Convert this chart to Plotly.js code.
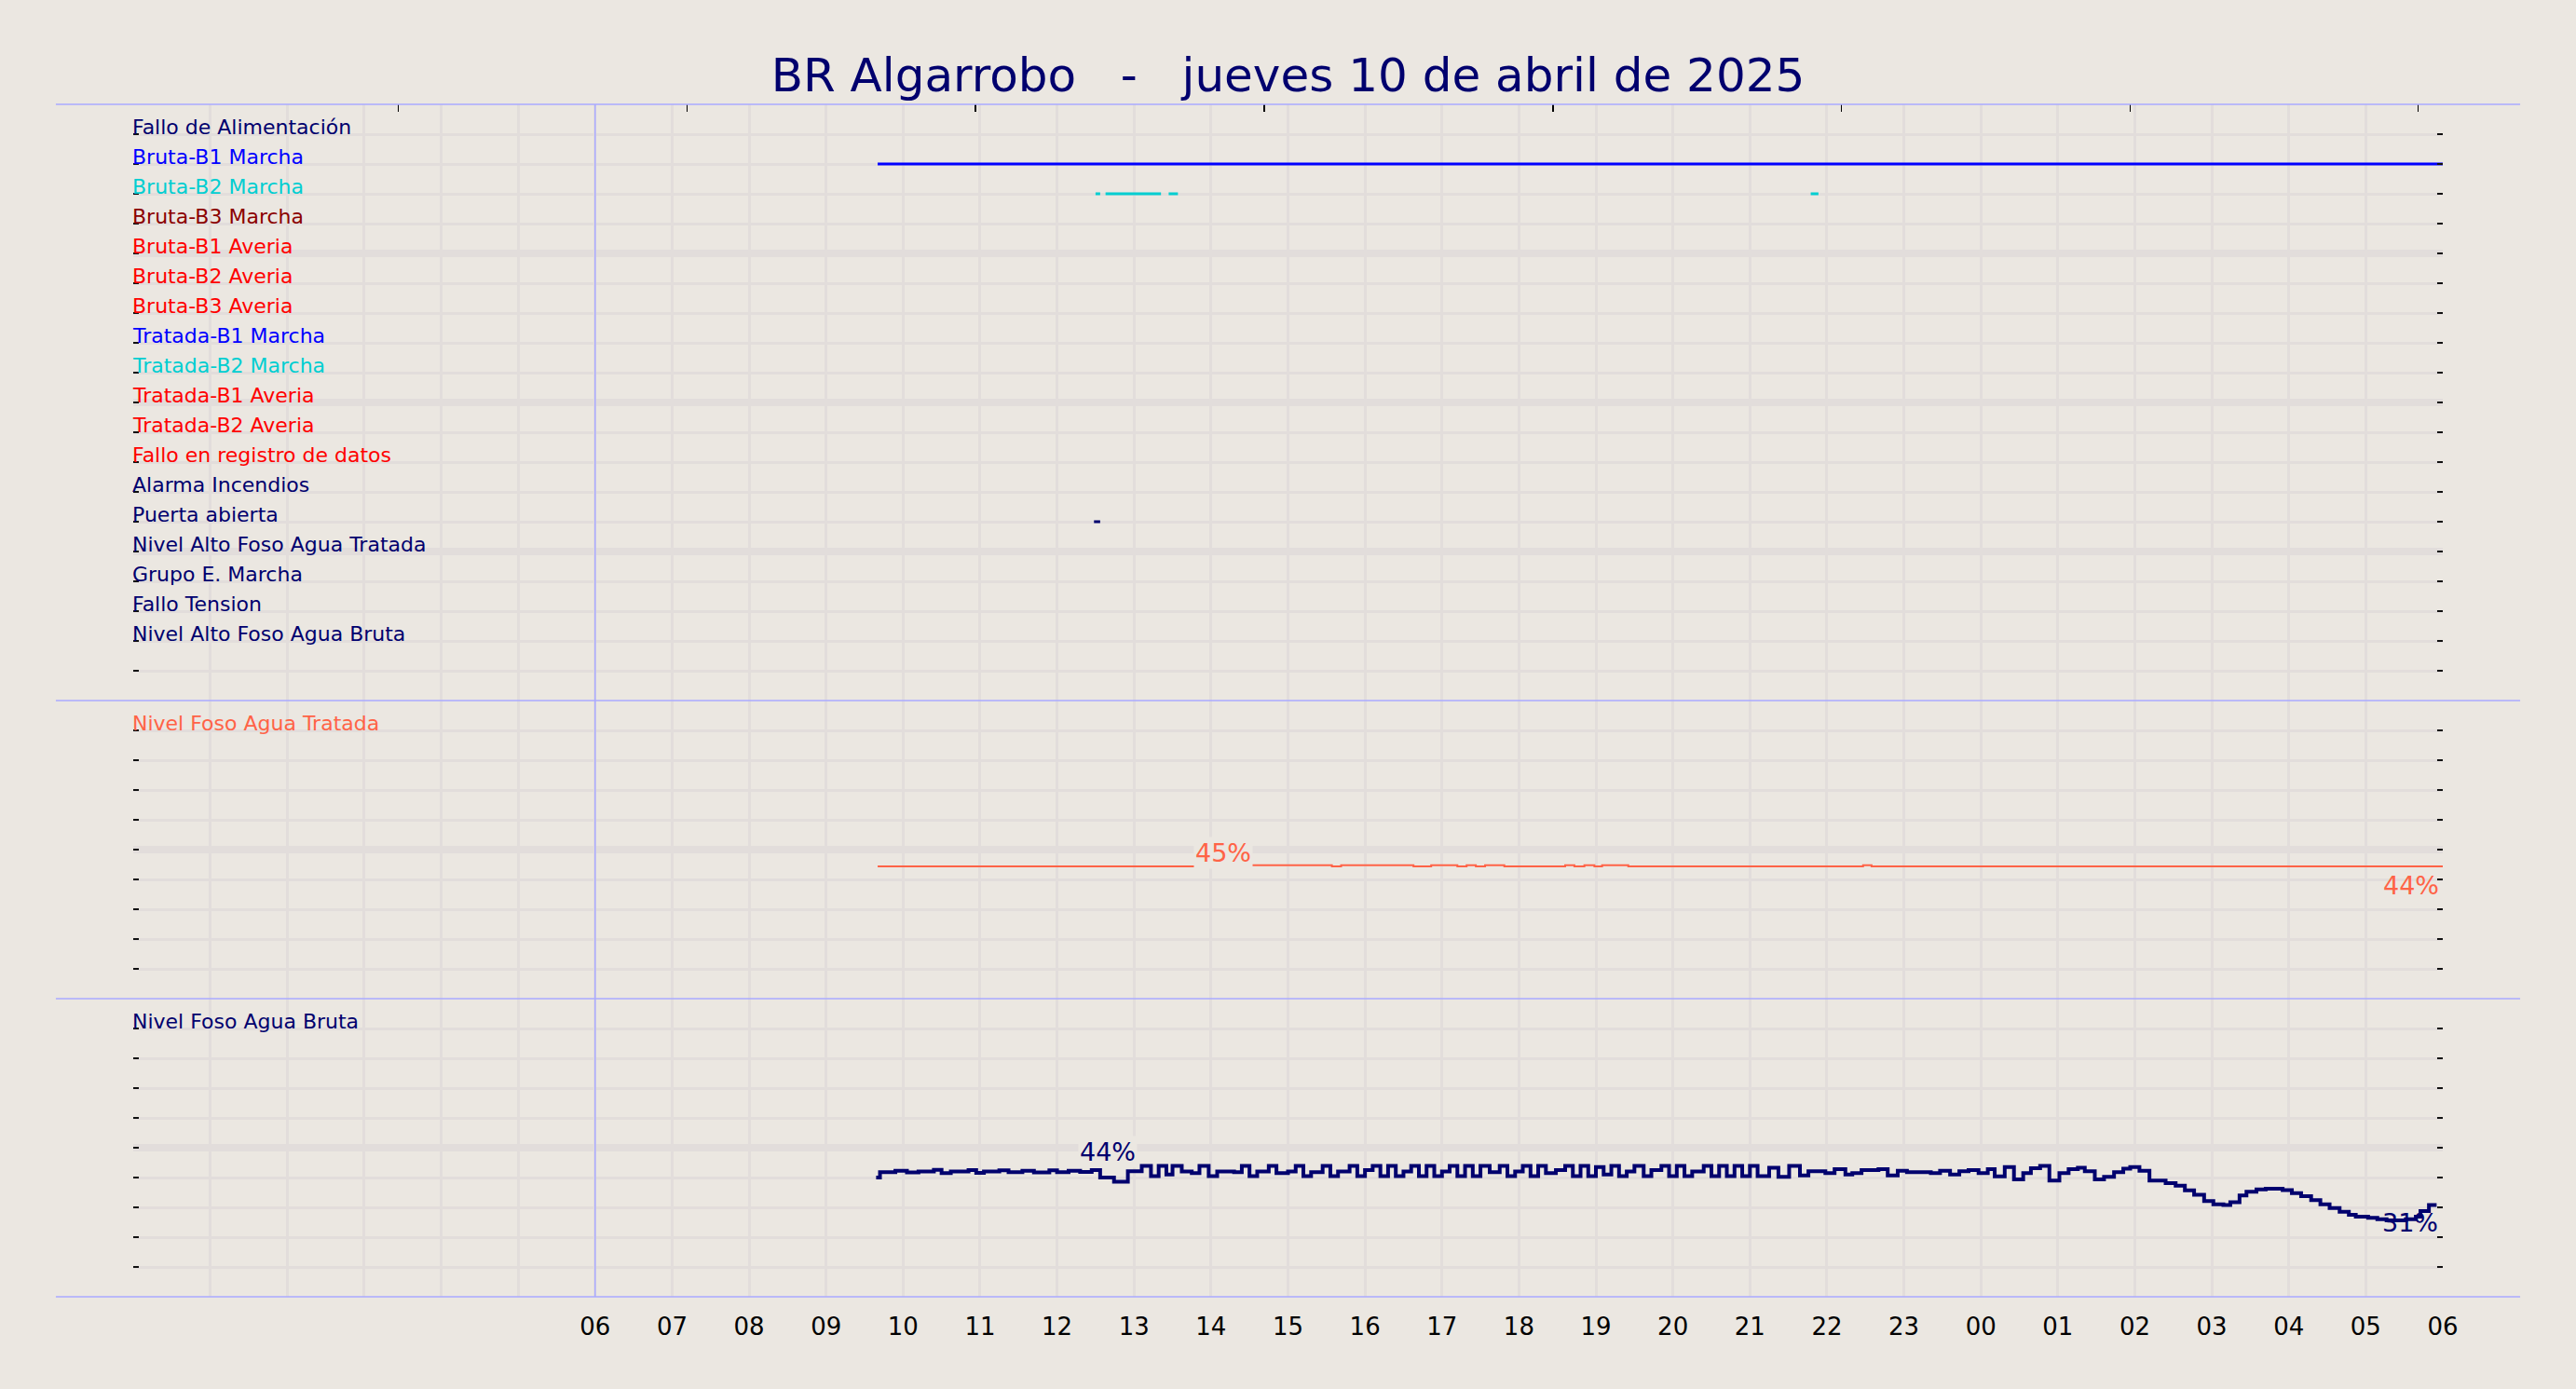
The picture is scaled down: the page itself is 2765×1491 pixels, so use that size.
<!DOCTYPE html>
<html><head><meta charset="utf-8">
<script src="https://cdn.plot.ly/plotly-3.0.1.min.js"></script>
<style>html,body{margin:0;padding:0;background:#ebe7e1;}</style>
</head><body><div id="chart" style="width:2765px;height:1491px;"></div>
<script>
// ---------------- DATA (hours since 2025-04-10 00:00) ----------------
const titleText = "BR Algarrobo\u00a0\u00a0\u00a0-\u00a0\u00a0\u00a0jueves 10 de abril de 2025";

const statusLabels = [
  "Fallo de Alimentación", "Bruta-B1 Marcha", "Bruta-B2 Marcha", "Bruta-B3 Marcha",
  "Bruta-B1 Averia", "Bruta-B2 Averia", "Bruta-B3 Averia", "Tratada-B1 Marcha",
  "Tratada-B2 Marcha", "Tratada-B1 Averia", "Tratada-B2 Averia", "Fallo en registro de datos",
  "Alarma Incendios", "Puerta abierta", "Nivel Alto Foso Agua Tratada", "Grupo E. Marcha",
  "Fallo Tension", "Nivel Alto Foso Agua Bruta"
];
const statusColors = [
  "#00006e", "#0000ff", "#00ced1", "#8b0000",
  "#ff0000", "#ff0000", "#ff0000", "#0000ff",
  "#00ced1", "#ff0000", "#ff0000", "#ff0000",
  "#00006e", "#00006e", "#00006e", "#00006e",
  "#00006e", "#00006e"
];
// on-intervals [start, end] for the signals that were active
const brutaB1MarchaOn = [[9.67, 30.0]];
const brutaB2MarchaOn = [[12.50, 12.56], [12.63, 13.35], [13.45, 13.57], [21.79, 21.89]];
const puertaAbiertaOn = [[12.48, 12.56]];

// Nivel Foso Agua Tratada (%)
const tratadaT = [9.67, 14.0, 15.57, 15.69, 16.63, 16.86, 17.20, 17.32, 17.44, 17.56, 17.81, 18.60, 18.72, 18.85, 18.98, 19.08, 19.42, 22.47, 22.58, 30.0];
const tratadaV = [44.4, 44.8, 44.4, 44.8, 44.4, 44.8, 44.4, 44.8, 44.4, 44.8, 44.4, 44.8, 44.4, 44.8, 44.4, 44.8, 44.4, 44.8, 44.4, 44.4];

// Nivel Foso Agua Bruta (%)
const brutaT = [9.65, 9.70, 9.90, 10.05, 10.20, 10.40, 10.50, 10.62, 10.85, 10.95, 11.05, 11.25, 11.37, 11.55, 11.70, 11.90, 12.00, 12.15, 12.30, 12.45, 12.56, 12.74, 12.92,
  13.10, 13.22, 13.32, 13.42, 13.50, 13.62, 13.75, 13.85, 13.97, 14.08, 14.30, 14.40, 14.50, 14.60, 14.75, 14.85, 15.00, 15.10, 15.20, 15.30, 15.45, 15.55, 15.65, 15.80, 15.90,
  16.00, 16.10, 16.20, 16.30, 16.40, 16.50, 16.60, 16.70, 16.80, 16.90, 17.00, 17.10, 17.20, 17.30, 17.40, 17.50, 17.62, 17.75, 17.85, 17.95, 18.05, 18.15, 18.25, 18.35, 18.48,
  18.60, 18.70, 18.80, 18.90, 19.00, 19.10, 19.20, 19.30, 19.40, 19.50, 19.62, 19.72, 19.85, 19.95, 20.05, 20.15, 20.25, 20.40, 20.50, 20.60, 20.70, 20.80, 20.90, 21.00, 21.10,
  21.25, 21.37, 21.51, 21.65, 21.76, 21.98, 22.10, 22.24, 22.33, 22.45, 22.67, 22.79, 22.92, 23.04, 23.35, 23.47, 23.60, 23.72, 23.84, 23.97, 24.09, 24.18, 24.31, 24.43, 24.55,
  24.65, 24.77, 24.89, 25.02, 25.14, 25.26, 25.35, 25.48, 25.60, 25.73, 25.85, 25.94, 26.06, 26.19, 26.40, 26.53, 26.65, 26.77, 26.90, 27.02, 27.15, 27.24, 27.36, 27.45, 27.58,
  27.70, 27.92, 28.04, 28.16, 28.29, 28.41, 28.53, 28.66, 28.78, 28.87, 29.03, 29.15, 29.27, 29.52, 29.65, 29.71, 29.82, 29.92];
const brutaV = [40.0, 41.8, 42.3, 41.7, 42.0, 42.6, 41.5, 42.0, 42.5, 41.6, 42.0, 42.4, 41.8, 42.3, 41.7, 42.4, 41.8, 42.3, 41.9, 42.5, 40.0, 38.6, 42.1,
  43.9, 40.5, 43.9, 41.0, 43.9, 42.0, 41.5, 43.9, 40.5, 42.0, 41.8, 43.9, 40.5, 42.0, 43.9, 41.5, 42.0, 43.9, 40.5, 41.8, 43.9, 40.5, 42.0, 43.9, 40.5,
  42.5, 43.9, 40.5, 43.9, 40.5, 42.0, 43.9, 40.5, 43.9, 40.5, 42.0, 43.9, 40.5, 43.9, 40.5, 43.9, 41.8, 43.9, 40.5, 42.0, 43.9, 40.5, 43.9, 41.5, 42.5,
  43.9, 40.5, 43.9, 40.5, 43.5, 41.0, 43.9, 40.5, 42.0, 43.9, 40.5, 42.5, 43.9, 40.5, 43.9, 40.5, 42.0, 43.9, 40.5, 43.9, 40.5, 43.9, 40.5, 43.9, 40.5,
  43.3, 40.2, 43.9, 40.7, 42.1, 41.5, 42.8, 41.0, 41.5, 42.5, 42.8, 40.7, 42.3, 41.8, 41.5, 42.3, 41.0, 42.1, 42.5, 41.5, 42.8, 40.4, 43.5, 39.4, 41.5,
  43.1, 43.9, 39.0, 41.5, 42.8, 43.3, 42.1, 39.4, 40.2, 41.8, 43.0, 43.5, 42.3, 39.0, 38.1, 37.3, 35.7, 34.2, 32.1, 31.0, 30.8, 31.7, 34.0, 35.2, 36.0,
  36.25, 35.8, 34.8, 33.75, 32.4, 31.0, 29.8, 28.5, 27.5, 26.9, 26.5, 26.0, 25.6, 26.0, 26.9, 28.75, 30.8, 30.8];

// value labels
const tratadaPeak = {t: 14.16, v: 45, text: "45%"};
const tratadaLast = {t: 30.0, v: 44, text: "44%"};
const brutaPeak = {t: 12.66, v: 44, text: "44%"};
const brutaLast = {t: 30.0, v: 31, text: "31%"};

// axis ticks
const hourTickVals = [6,7,8,9,10,11,12,13,14,15,16,17,18,19,20,21,22,23,24,25,26,27,28,29,30];
const hourTickText = ["06","07","08","09","10","11","12","13","14","15","16","17","18","19","20","21","22","23","00","01","02","03","04","05","06"];
const topTicks = [3.444, 7.192, 10.94, 14.69, 18.44, 22.19, 25.94, 29.68];
const dayStartHour = 6;

// ---------------- STYLE ----------------
const BG = "#ebe7e1";
const GRID = "#e2dddb";
const BLUE_LINE = "#aaaaff";
const FONT = "DejaVu Sans";
const NAVY = "#00006e";

const traces = [];
function intervalsTrace(intervals, row, color) {
  const x = [], y = [];
  intervals.forEach(([s, e]) => { x.push(s, e, null); y.push(row, row, null); });
  return {x, y, xaxis: "x", yaxis: "y", mode: "lines", line: {color, width: 3}, hoverinfo: "skip", showlegend: false};
}
traces.push(intervalsTrace(brutaB1MarchaOn, statusLabels.indexOf("Bruta-B1 Marcha") + 1, statusColors[1]));
traces.push(intervalsTrace(brutaB2MarchaOn, statusLabels.indexOf("Bruta-B2 Marcha") + 1, statusColors[2]));
traces.push(intervalsTrace(puertaAbiertaOn, statusLabels.indexOf("Puerta abierta") + 1, statusColors[13]));

traces.push({x: tratadaT, y: tratadaV, xaxis: "x", yaxis: "y2", mode: "lines",
  line: {color: "tomato", width: 2, shape: "hv"}, hoverinfo: "skip", showlegend: false});
traces.push({x: brutaT, y: brutaV, xaxis: "x", yaxis: "y3", mode: "lines",
  line: {color: NAVY, width: 4, shape: "hv"}, hoverinfo: "skip", showlegend: false});
// carrier for the top tick axis
traces.push({x: [], y: [], xaxis: "x2", yaxis: "y", mode: "lines", hoverinfo: "skip", showlegend: false});

const annotations = [];
statusLabels.forEach((lab, i) => {
  annotations.push({xref: "paper", x: 0, yref: "y", y: i + 1, xanchor: "left", yanchor: "bottom",
    text: lab, showarrow: false, font: {family: FONT, size: 22, color: statusColors[i]},
    xshift: -2, yshift: -6, borderpad: 0});
});
annotations.push({xref: "paper", x: 0, yref: "y2", y: 90, xanchor: "left", yanchor: "bottom",
  text: "Nivel Foso Agua Tratada", showarrow: false, font: {family: FONT, size: 22, color: "tomato"},
  xshift: -2, yshift: -6, borderpad: 0});
annotations.push({xref: "paper", x: 0, yref: "y3", y: 90, xanchor: "left", yanchor: "bottom",
  text: "Nivel Foso Agua Bruta", showarrow: false, font: {family: FONT, size: 22, color: NAVY},
  xshift: -2, yshift: -6, borderpad: 0});
annotations.push({xref: "x", x: tratadaPeak.t, yref: "y2", y: tratadaPeak.v, xanchor: "center", yanchor: "middle",
  text: tratadaPeak.text, showarrow: false, font: {family: FONT, size: 27, color: "tomato"},
  bgcolor: BG, borderpad: 1, yshift: 13});
annotations.push({xref: "x", x: tratadaLast.t, yref: "y2", y: tratadaLast.v, xanchor: "right", yanchor: "middle",
  text: tratadaLast.text, showarrow: false, font: {family: FONT, size: 27, color: "tomato"},
  borderpad: 0, yshift: -19, xshift: -3});
annotations.push({xref: "x", x: brutaPeak.t, yref: "y3", y: brutaPeak.v, xanchor: "center", yanchor: "middle",
  text: brutaPeak.text, showarrow: false, font: {family: FONT, size: 27, color: NAVY},
  bgcolor: BG, borderpad: 1, yshift: 15});
annotations.push({xref: "x", x: brutaLast.t, yref: "y3", y: brutaLast.v, xanchor: "right", yanchor: "middle",
  text: brutaLast.text, showarrow: false, font: {family: FONT, size: 27, color: NAVY},
  borderpad: 0, yshift: -20, xshift: -4});

const shapes = [];
[0, 0.25, 0.5, 1].forEach(yy => shapes.push({type: "line", xref: "paper", yref: "paper",
  x0: -0.0335, x1: 1.0335, y0: yy, y1: yy, line: {color: BLUE_LINE, width: 1.5}, layer: "above"}));
shapes.push({type: "line", xref: "x", yref: "paper", x0: dayStartHour, x1: dayStartHour, y0: 0, y1: 1,
  line: {color: BLUE_LINE, width: 1.5}, layer: "above"});

const TICK = {ticks: "inside", ticklen: 6, tickwidth: 1.6, tickcolor: "#111"};
function pctAxis(domain) {
  return Object.assign({domain, anchor: "x", range: [0, 100], tick0: 0, dtick: 50, showticklabels: false,
    mirror: "ticks", showline: false,
    showgrid: true, gridcolor: GRID, gridwidth: 8, zeroline: false,
    minor: Object.assign({tick0: 0, dtick: 10, showgrid: true, gridcolor: GRID, gridwidth: 3}, TICK)}, TICK);
}

const layout = {
  width: 2765, height: 1491,
  margin: {l: 143, r: 143, t: 112, b: 99, pad: 0},
  paper_bgcolor: BG, plot_bgcolor: BG,
  font: {family: FONT, color: "#000"},
  showlegend: false,
  title: {text: titleText, font: {family: FONT, size: 50, color: NAVY},
    x: 0.5, xanchor: "center", xref: "paper", yref: "container", y: 0.946, yanchor: "middle"},
  xaxis: {domain: [0, 1], anchor: "y3", range: [0, 30], tickmode: "array",
    tickvals: hourTickVals, ticktext: hourTickText, ticks: "", ticklabelstandoff: 14,
    tickfont: {family: FONT, size: 26, color: "#000"},
    showgrid: true, gridcolor: GRID, gridwidth: 3, zeroline: false, showline: false,
    minor: {tick0: 0, dtick: 1, showgrid: true, gridcolor: GRID, gridwidth: 3, ticks: ""}},
  xaxis2: {overlaying: "x", anchor: "y", side: "top", range: [0, 30], tickmode: "array",
    tickvals: topTicks, ticks: "inside", ticklen: 8, tickwidth: 1.5, tickcolor: "#000",
    showticklabels: false, showgrid: false, zeroline: false, showline: false},
  yaxis: Object.assign({domain: [0.5, 1], anchor: "x", range: [20, 0], tick0: 0, dtick: 5, showticklabels: false,
    mirror: "ticks", showline: false,
    showgrid: true, gridcolor: GRID, gridwidth: 8, zeroline: false,
    minor: Object.assign({tick0: 0, dtick: 1, showgrid: true, gridcolor: GRID, gridwidth: 3}, TICK)}, TICK),
  yaxis2: pctAxis([0.25, 0.5]),
  yaxis3: pctAxis([0, 0.25]),
  shapes, annotations
};

Plotly.newPlot("chart", traces, layout, {displayModeBar: false, staticPlot: true});
</script></body></html>
